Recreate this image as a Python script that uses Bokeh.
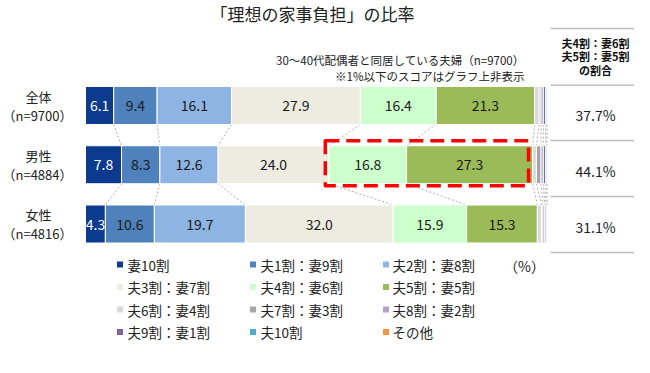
from bokeh.plotting import figure
from bokeh.models import Range1d, ColumnDataSource
from bokeh.core.properties import value
from bokeh.embed import file_html
from bokeh.resources import INLINE

# ---------------- data ----------------
categories = ["全体", "男性", "女性"]
sample_sizes = ["（n=9700）", "（n=4884）", "（n=4816）"]
series_labels = ["妻10割", "夫1割：妻9割", "夫2割：妻8割", "夫3割：妻7割", "夫4割：妻6割",
                 "夫5割：妻5割", "夫6割：妻4割", "夫7割：妻3割", "夫8割：妻2割",
                 "夫9割：妻1割", "夫10割", "その他"]
total_values = [6.1, 9.4, 16.1, 27.9, 16.4, 21.3, 1.0, 0.4, 0.5, 0.5, 0.3, 0.1]
male_values = [7.8, 8.3, 12.6, 24.0, 16.8, 27.3, 0.8, 1.0, 0.5, 0.5, 0.3, 0.1]
female_values = [4.3, 10.6, 19.7, 32.0, 15.9, 15.3, 0.9, 0.3, 0.4, 0.3, 0.2, 0.1]
share_4_5 = ["37.7%", "44.1%", "31.1%"]
title_text = "「理想の家事負担」の比率"
subtitle_1 = "30～40代配偶者と同居している夫婦（n=9700）"
subtitle_2 = "※1%以下のスコアはグラフ上非表示"
table_header = ["夫4割：妻6割", "夫5割：妻5割", "の割合"]
unit_text = "（%）"

colors = ["#0c3a8e", "#4f81bd", "#8db4e2", "#eeece1", "#ccffcc", "#9bbb59",
          "#d9d9d9", "#a6a6a6", "#b3a2c7", "#8064a2", "#4bacc6", "#f79646"]

rows = [total_values, male_values, female_values]
FONT = value("Noto Sans CJK JP")

# ---------------- geometry helpers (page px -> data) ----------------
W, H = 634, 357
PX_PER_PCT = 4.62
X_ORIGIN = 85.0          # canvas px of 0 %
ROW_PITCH = 59.25
Y_ORIGIN = 105.0         # canvas px of first row centre


def X(page_px):
    return (page_px - 8 - X_ORIGIN) / PX_PER_PCT


def Y(page_py):
    return (page_py - 8 - Y_ORIGIN) / ROW_PITCH


def DY(px):
    return px / ROW_PITCH


p = figure(width=W, height=H, output_backend="svg", toolbar_location=None,
           x_range=Range1d(X(8), X(8 + W)), y_range=Range1d(Y(8 + H), Y(8)),
           x_axis_location=None, y_axis_location=None, min_border=0,
           background_fill_color="white", border_fill_color="white")
p.xgrid.visible = False
p.ygrid.visible = False
p.outline_line_color = None

bar_h = DY(38)

# ---------------- bars ----------------
lefts, rights, ys, fills = [], [], [], []
lab_x, lab_y, lab_t, lab_c = [], [], [], []
cums = []
for i, vals in enumerate(rows):
    c = 0.0
    cum = [0.0]
    for j, v in enumerate(vals):
        lefts.append(c)
        rights.append(c + v)
        ys.append(i)
        fills.append(colors[j])
        if v > 1.0:
            lab_x.append(c + v / 2)
            lab_y.append(i)
            lab_t.append(f"{v:.1f}")
            lab_c.append("white" if j == 0 else "#1a1a1a")
        c += v
        cum.append(c)
    cums.append(cum)

# connector lines between rows
sx0, sy0, sx1, sy1 = [], [], [], []
for i in range(len(rows) - 1):
    for k in range(1, len(cums[i]) - 1):
        sx0.append(cums[i][k])
        sy0.append(i + bar_h / 2)
        sx1.append(cums[i + 1][k])
        sy1.append(i + 1 - bar_h / 2)
p.segment(x0=sx0, y0=sy0, x1=sx1, y1=sy1, line_color="#b0b0b0", line_width=1,
          line_dash="2 2")

src = ColumnDataSource(dict(left=lefts, right=rights, y=ys, fill=fills))
p.hbar(y="y", left="left", right="right", height=bar_h, fill_color="fill",
       line_color="white", line_width=1, source=src)

lab_src = ColumnDataSource(dict(x=lab_x, y=lab_y, t=lab_t, c=lab_c))
p.text(x="x", y="y", text="t", text_color="c", source=lab_src, text_font=FONT,
       text_font_size=value("14px"), text_align="center", text_baseline="middle")

# red dashed highlight around male 夫4割/夫5割
m_left = cums[1][4]
m_right = cums[1][6]
p.quad(left=[m_left - 0.8], right=[m_right - 0.9], top=[1 - DY(24)], bottom=[1 + DY(21)],
       fill_color=None, line_color="#ff0000", line_width=3.5, line_dash="14 7",
       line_join="round")

# ---------------- row labels ----------------
p.text(x=[X(46)] * 3, y=[i - DY(9.5) for i in range(3)], text=categories, text_font=FONT,
       text_font_size=value("13px"), text_align="center", text_baseline="middle",
       text_color="#222222")
p.text(x=[X(45)] * 3, y=[i + DY(9.5) for i in range(3)], text=sample_sizes, text_font=FONT,
       text_font_size=value("13px"), text_align="center", text_baseline="middle",
       text_color="#222222")

# ---------------- title & notes ----------------
p.text(x=[X(320)], y=[Y(21)], text=[title_text], text_font=FONT,
       text_font_size=value("17px"), text_align="center", text_baseline="middle",
       text_color="#222222")
p.text(x=[X(532), X(532)], y=[Y(67), Y(83)], text=[subtitle_1, subtitle_2], text_font=FONT,
       text_font_size=value("11.5px"), text_align="right", text_baseline="middle",
       text_color="#222222")

# ---------------- right table ----------------
line_ys = [36, 92.7, 148, 204, 260]
p.segment(x0=[X(558)] * len(line_ys), x1=[X(650)] * len(line_ys),
          y0=[Y(v) for v in line_ys], y1=[Y(v) for v in line_ys],
          line_color="#bfbfbf", line_width=1.5)
p.text(x=[X(603)] * 3, y=[Y(50), Y(63.5), Y(77)], text=table_header, text_font=FONT,
       text_font_size=value("11px"), text_font_style="bold", text_align="center",
       text_baseline="middle", text_color="#111111")
cell_y = [Y((line_ys[i + 1] + line_ys[i + 2]) / 2 + 2) for i in range(3)]
p.text(x=[X(603)] * 3, y=cell_y, text=share_4_5, text_font=FONT,
       text_font_size=value("14px"), text_align="center", text_baseline="middle",
       text_color="#222222")

# ---------------- legend ----------------
col_sq = [127.5, 260.5, 393.5]
col_tx = [135, 268, 400]
row_y = [272, 294.5, 317, 339.5]
lx, ly, tx, ty, lc = [], [], [], [], []
for j, lab in enumerate(series_labels):
    r, c = divmod(j, 3)
    lx.append(X(col_sq[c]))
    ly.append(Y(row_y[r]))
    tx.append(X(col_tx[c]))
    ty.append(Y(row_y[r]))
    lc.append(colors[j])
p.scatter(x=lx, y=ly, marker="square", size=6, fill_color=lc, line_color=None)
p.text(x=tx, y=ty, text=series_labels, text_font=FONT, text_font_size=value("13.5px"),
       text_align="left", text_baseline="middle", text_color="#222222")
p.text(x=[X(532)], y=[Y(273)], text=[unit_text], text_font=FONT,
       text_font_size=value("14px"), text_align="center", text_baseline="middle",
       text_color="#222222")

open("out.html", "w").write(file_html(p, INLINE))
